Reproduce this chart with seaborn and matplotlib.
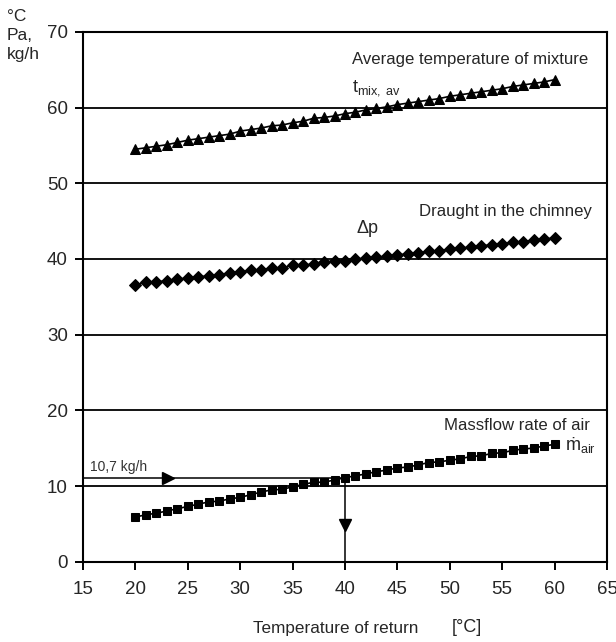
import numpy as np
import pandas as pd
import matplotlib
matplotlib.use("Agg")
import matplotlib.pyplot as plt
import seaborn as sns

# return temperature [°C]
t_return = list(range(20, 61))

# average temperature of mixture [°C]
t_mix = [54.5, 54.7, 54.9, 55.1, 55.4, 55.7, 55.9, 56.1, 56.3, 56.5,
         56.9, 57.1, 57.3, 57.6, 57.7, 58.0, 58.2, 58.6, 58.7, 58.9,
         59.2, 59.4, 59.7, 59.9, 60.1, 60.4, 60.6, 60.8, 61.0, 61.2,
         61.5, 61.7, 61.9, 62.1, 62.3, 62.5, 62.8, 63.0, 63.2, 63.4, 63.7]

# draught in the chimney [Pa]
dp = [36.6, 36.9, 37.0, 37.1, 37.3, 37.5, 37.6, 37.8, 37.9, 38.2,
      38.3, 38.5, 38.6, 38.8, 38.8, 39.2, 39.2, 39.3, 39.6, 39.7,
      39.8, 40.0, 40.1, 40.2, 40.4, 40.5, 40.7, 40.8, 41.0, 41.1,
      41.3, 41.4, 41.6, 41.7, 41.9, 42.0, 42.2, 42.3, 42.5, 42.6, 42.8]

# massflow rate of air [kg/h]
m_air = [5.9, 6.2, 6.4, 6.7, 7.0, 7.3, 7.6, 7.9, 8.0, 8.3,
         8.5, 8.85, 9.2, 9.5, 9.55, 9.9, 10.2, 10.5, 10.5, 10.8,
         11.1, 11.35, 11.6, 11.9, 12.1, 12.4, 12.5, 12.8, 13.1, 13.2,
         13.4, 13.6, 13.9, 14.0, 14.3, 14.4, 14.7, 14.9, 15.0, 15.3, 15.5]

# read-off example
read_x = 40
read_y = 11

x_ticks = list(range(15, 66, 5))
y_ticks = list(range(0, 71, 10))

sns.set_style("white")
plt.rcParams["font.family"] = ["Liberation Sans", "DejaVu Sans"]
plt.rcParams["mathtext.fontset"] = "custom"
plt.rcParams["mathtext.rm"] = "Liberation Sans"
plt.rcParams["mathtext.it"] = "Liberation Sans"

fig = plt.figure(figsize=(6.16, 6.42), dpi=100)
ax = fig.add_axes([83 / 616, 0.1251, 524 / 616, 0.8251])

# horizontal grid lines
for yv in y_ticks[1:-1]:
    ax.axhline(yv, color="black", lw=1.3, zorder=1)

# the three curves
sns.lineplot(x=t_return, y=t_mix, color="black", marker="^", markersize=7,
             markeredgecolor="black", linewidth=1.2, ax=ax, zorder=3)
sns.lineplot(x=t_return, y=dp, color="black", marker="D", markersize=6.5,
             markeredgecolor="black", linewidth=1.2, ax=ax, zorder=3)
sns.lineplot(x=t_return, y=m_air, color="black", marker="s", markersize=5.8,
             markeredgecolor="black", linewidth=1.2, ax=ax, zorder=3)

# read-off arrows
ax.plot([x_ticks[0], read_x], [read_y, read_y], color="black", lw=1.1, zorder=2)
ax.plot([read_x, read_x], [read_y, 0], color="black", lw=1.1, zorder=2)
ax.plot([23.1], [read_y], marker=">", color="black", ms=8, zorder=2)
ax.plot([read_x], [4.8], marker="v", color="black", ms=8, zorder=2)
ax.text(15.65, 12.0, "10,7 kg/h", fontsize=10, color="#333333", va="baseline")

# series labels
ax.text(63.2, 65.8, "Average temperature of mixture", fontsize=12.1,
        ha="right", va="baseline")
ax.text(40.7, 62.1, r"t$_{\mathrm{mix,\ av}}$", fontsize=13, va="baseline")
ax.text(63.6, 45.7, "Draught in the chimney", fontsize=12.1,
        ha="right", va="baseline")
ax.text(41.1, 43.4, "Δp", fontsize=13, va="baseline")
ax.text(63.4, 17.4, "Massflow rate of air", fontsize=12.1,
        ha="right", va="baseline")
ax.text(61.0, 14.8, r"ṁ$_{\mathrm{air}}$", fontsize=13, va="baseline")

ax.set_xlim(x_ticks[0], x_ticks[-1])
ax.set_ylim(y_ticks[0], y_ticks[-1])
ax.set_xticks(x_ticks)
ax.set_yticks(y_ticks)
ax.tick_params(axis="both", direction="out", length=6, width=1.4,
               labelsize=13.5, color="black", bottom=True, left=True, pad=5)
ax.tick_params(axis="x", pad=8)
ax.set_xlabel("")
ax.set_ylabel("")
for sp in ax.spines.values():
    sp.set_color("black")
    sp.set_linewidth(1.5)

fig.text(7 / 616, 1 - 9 / 642, "°C\nPa,\nkg/h", fontsize=12.5, va="top",
         ha="left", linespacing=1.35)
fig.text(253 / 616, 1 - 628 / 642, "Temperature of return", fontsize=12.3,
         va="center", ha="left")
fig.text(452 / 616, 1 - 627 / 642, "[°C]", fontsize=13, va="center", ha="left")

fig.savefig("out.png", dpi=100)
